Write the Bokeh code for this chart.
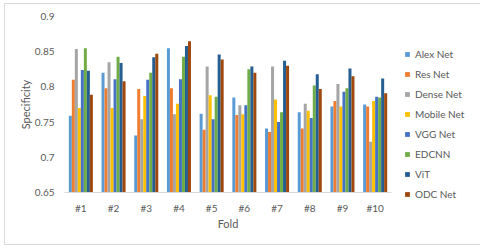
from bokeh.plotting import figure
from bokeh.models import ColumnDataSource, FactorRange, Range1d, FixedTicker, Legend, LegendItem
from bokeh.transform import dodge
from bokeh.embed import file_html
from bokeh.resources import INLINE

folds = ["#1", "#2", "#3", "#4", "#5", "#6", "#7", "#8", "#9", "#10"]
series_names = ["Alex Net", "Res Net", "Dense Net", "Mobile Net", "VGG Net", "EDCNN", "ViT", "ODC Net"]
alex_net = [0.759, 0.820, 0.731, 0.855, 0.762, 0.785, 0.741, 0.764, 0.772, 0.775]
res_net = [0.810, 0.798, 0.797, 0.798, 0.739, 0.760, 0.736, 0.741, 0.780, 0.772]
dense_net = [0.854, 0.835, 0.754, 0.761, 0.829, 0.774, 0.829, 0.776, 0.804, 0.722]
mobile_net = [0.770, 0.770, 0.787, 0.776, 0.788, 0.761, 0.782, 0.766, 0.772, 0.780]
vgg_net = [0.824, 0.811, 0.810, 0.811, 0.754, 0.774, 0.750, 0.756, 0.793, 0.786]
edcnn = [0.855, 0.843, 0.820, 0.843, 0.786, 0.825, 0.764, 0.802, 0.798, 0.785]
vit = [0.823, 0.834, 0.842, 0.858, 0.846, 0.829, 0.837, 0.818, 0.826, 0.812]
odc_net = [0.789, 0.808, 0.847, 0.865, 0.839, 0.820, 0.830, 0.797, 0.815, 0.791]
y_ticks = [0.65, 0.7, 0.75, 0.8, 0.85, 0.9]
y_tick_labels = ["0.65", "0.7", "0.75", "0.8", "0.85", "0.9"]

series_values = [alex_net, res_net, dense_net, mobile_net, vgg_net, edcnn, vit, odc_net]
colors = ["#5B9BD5", "#ED7D31", "#A5A5A5", "#FFC000", "#4472C4", "#70AD47", "#255E91", "#9E480E"]
keys = ["s%d" % i for i in range(len(series_names))]

data = {"fold": folds}
for k, vals in zip(keys, series_values):
    data[k] = vals
source = ColumnDataSource(data)

FONT = "Lato"
TXT = "#595959"

p = figure(frame_width=327, frame_height=176, output_backend="svg", toolbar_location=None,
           x_range=FactorRange(factors=folds, range_padding=0),
           y_range=Range1d(0.65, 0.9),
           min_border_left=59, min_border_right=84, min_border_top=12, min_border_bottom=52)
p.outline_line_color = None
p.xgrid.grid_line_color = None
p.ygrid.grid_line_color = None
p.margin = (3, 4, 3, 4)
p.styles = {"border": "1px solid #d9d9d9"}

bw = 0.0919
items = []
for i, (k, name, c) in enumerate(zip(keys, series_names, colors)):
    off = (i - 3.5) * bw
    r = p.vbar(x=dodge("fold", off, range=p.x_range), top=k, bottom=0.65, width=bw,
               source=source, fill_color=c, line_color=None)
    items.append(LegendItem(label=name, renderers=[r]))

p.yaxis.ticker = FixedTicker(ticks=y_ticks)
p.yaxis.major_label_overrides = {t: l for t, l in zip(y_ticks, y_tick_labels)}
p.yaxis.axis_line_color = None
p.yaxis.axis_label = "Specificity"
p.xaxis.axis_label = "Fold"
p.xaxis.axis_line_color = "#d9d9d9"
for ax in (p.xaxis, p.yaxis):
    ax.major_tick_line_color = None
    ax.minor_tick_line_color = None
    ax.major_tick_out = 0
    ax.major_tick_in = 0
    ax.minor_tick_out = 0
    ax.minor_tick_in = 0
    ax.major_label_text_font = FONT
    ax.major_label_text_font_size = "10px"
    ax.major_label_text_color = TXT
    ax.axis_label_text_font = FONT
    ax.axis_label_text_font_size = "11px"
    ax.axis_label_text_font_style = "normal"
    ax.axis_label_text_color = TXT
p.yaxis.major_label_standoff = 10
p.yaxis.axis_label_standoff = 0
p.xaxis.major_label_standoff = 9
p.xaxis.axis_label_standoff = 0

legend = Legend(items=items, location=(13, -8), orientation="vertical",
                glyph_width=6, glyph_height=6, label_height=12, label_standoff=5, spacing=8,
                padding=0, margin=0, border_line_color=None, background_fill_alpha=0,
                label_text_font=FONT, label_text_font_size="10px", label_text_color=TXT)
p.add_layout(legend, "right")

open("out.html", "w").write(file_html(p, INLINE))
